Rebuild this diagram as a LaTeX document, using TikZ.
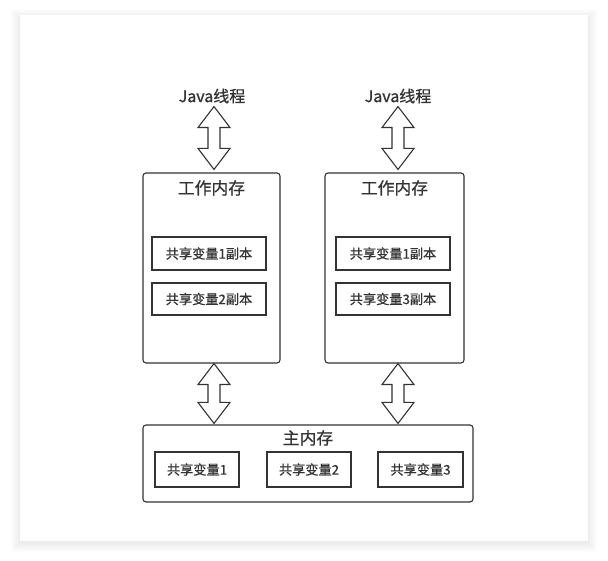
\documentclass[tikz,border=0pt]{standalone}
\usepackage{fontspec}
\setmainfont{Noto Sans CJK SC}[FakeBold=0.7]
\usetikzlibrary{calc}
\definecolor{ln}{HTML}{333333}
\newcommand\dblarr[3]{%
  \draw[dbl] let \p1=(#2), \p2=(#3) in
   (#1pt,\y1) -- (#1pt+16pt,\y1-21pt) -- (#1pt+6pt,\y1-21pt) -- (#1pt+6pt,\y2+21pt)
   -- (#1pt+16pt,\y2+21pt) -- (#1pt,\y2) -- (#1pt-16pt,\y2+21pt) -- (#1pt-6pt,\y2+21pt)
   -- (#1pt-6pt,\y1-21pt) -- (#1pt-16pt,\y1-21pt) -- cycle;}
\begin{document}
\begin{tikzpicture}[x=1pt,y=1pt,
  box/.style={draw=ln, line width=1.1pt, rounded corners=3pt, fill=white, inner sep=0pt},
  inbox/.style={draw=ln, line width=1.1pt, fill=white, inner sep=0pt, text=ln,
    font=\fontsize{13.2}{15}\selectfont},
  ttl/.style={font=\fontsize{16.8}{18}\selectfont, text=ln, inner sep=0pt},
  jlbl/.style={font=\fontsize{16}{18}\selectfont, text=ln, inner sep=0pt},
  dbl/.style={draw=ln, line width=1.1pt, fill=white, line join=miter}]
\useasboundingbox (0,0) rectangle (608,561);
\fill[white] (0,0) rectangle (608,561);
\foreach \i in {1,...,9}
  \fill[black,opacity=0.007] (20-\i,18-\i) rectangle (588+\i,546+\i-3);
\fill[white] (20,20) rectangle (588,546);
% working memory boxes
\node[box, minimum width=137pt, minimum height=190pt] (w1) at (211.5,293) {};
\node[ttl] (w1t) at (211.5,373) {工作内存};
\node[inbox, minimum width=114pt, minimum height=33pt] (a1) at (209,307.5) {共享变量1副本};
\node[inbox, minimum width=114pt, minimum height=32pt] (a2) at (209,262) {共享变量2副本};
\node[box, minimum width=139pt, minimum height=190pt] (w2) at (394.5,293) {};
\node[ttl] (w2t) at (394.5,373) {工作内存};
\node[inbox, minimum width=114pt, minimum height=33pt] (b1) at (393,307.5) {共享变量1副本};
\node[inbox, minimum width=114pt, minimum height=32pt] (b2) at (393,262) {共享变量3副本};
% main memory
\node[box, minimum width=330pt, minimum height=77pt] (mm) at (308,97.5) {};
\node[ttl] (mmt) at (308,123) {主内存};
\node[inbox, minimum width=84pt, minimum height=35pt] (m1) at (197,91.5) {共享变量1};
\node[inbox, minimum width=84pt, minimum height=35pt] (m2) at (309,91.5) {共享变量2};
\node[inbox, minimum width=85pt, minimum height=35pt] (m3) at (420.5,91.5) {共享变量3};
% threads
\node[jlbl] (j1) at (212,465) {Java线程};
\node[jlbl] (j2) at (398,465) {Java线程};
% arrows
\dblarr{214}{$(j1.south)+(0,-3)$}{$(w1.north)+(0,3)$}
\dblarr{398}{$(j2.south)+(0,-3)$}{$(w2.north)+(0,3)$}
\dblarr{214}{w1.south}{$(mm.north)+(0,1)$}
\dblarr{398}{w2.south}{$(mm.north)+(0,1)$}
\end{tikzpicture}
\end{document}
